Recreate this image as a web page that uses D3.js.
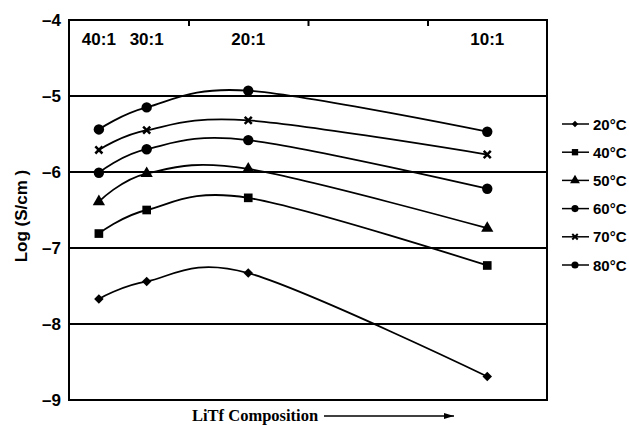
<!DOCTYPE html>
<html>
<head>
<meta charset="utf-8">
<script src="https://cdn.jsdelivr.net/npm/d3@7"></script>
<style>
  html, body { margin: 0; padding: 0; background: #fff; }
  svg { display: block; }
  .sans { font-family: "Liberation Sans", Arial, sans-serif; }
  .serif { font-family: "Liberation Serif", "Times New Roman", serif; }
</style>
</head>
<body>
<svg id="chart" width="629" height="425"></svg>
<script>
// LiTf : polymer ratios and their position along the composition axis
const compositions = ["40:1", "30:1", "20:1", "10:1"];
const compositionPos = [0.25, 0.65, 1.5, 3.5];

// log conductivity (S/cm) for each temperature
const temps = ["20°C", "40°C", "50°C", "60°C", "70°C", "80°C"];
const logS20 = [-7.67, -7.44, -7.33, -8.69];
const logS40 = [-6.81, -6.50, -6.34, -7.23];
const logS50 = [-6.39, -6.02, -5.96, -6.74];
const logS60 = [-6.01, -5.70, -5.58, -6.22];
const logS70 = [-5.71, -5.45, -5.32, -5.77];
const logS80 = [-5.44, -5.15, -4.93, -5.47];
const symbols = ["diamond", "square", "triangle", "circle", "cross", "circle"];

const yTicks = [-9, -8, -7, -6, -5, -4];
const gridValues = [-8, -7, -6, -5];

const seriesValues = [logS20, logS40, logS50, logS60, logS70, logS80];

const svg = d3.select("#chart");
const plot = { left: 69, right: 547, top: 20, bottom: 400 };

const x = d3.scaleLinear().domain([0, 4]).range([plot.left, plot.right]);
const y = d3.scaleLinear().domain([-9, -4]).range([plot.bottom, plot.top]);

// horizontal reference lines
svg.append("g").selectAll("line").data(gridValues).join("line")
  .attr("x1", plot.left).attr("x2", plot.right)
  .attr("y1", d => y(d)).attr("y2", d => y(d))
  .attr("stroke", "#000").attr("stroke-width", 2);

// plot frame
svg.append("rect")
  .attr("x", plot.left).attr("y", plot.top)
  .attr("width", plot.right - plot.left).attr("height", plot.bottom - plot.top)
  .attr("fill", "none").attr("stroke", "#000").attr("stroke-width", 2);

// small ticks hanging from the top edge
const xAxis = svg.append("g")
  .attr("transform", `translate(0,${plot.top})`)
  .call(d3.axisBottom(x).tickValues([1, 2, 3]).tickSize(6).tickFormat(""));
xAxis.select(".domain").remove();
xAxis.selectAll(".tick line").attr("stroke-width", 2);

// y axis labels
const yAxis = svg.append("g")
  .attr("transform", `translate(${plot.left},0)`)
  .call(d3.axisLeft(y).tickValues(yTicks).tickSize(0).tickPadding(8)
    .tickFormat(d => "\u2013" + Math.abs(d)));
yAxis.select(".domain").remove();
yAxis.selectAll("text")
  .attr("font-size", 17).attr("font-weight", "bold").attr("fill", "#000")
  .attr("font-family", "'Liberation Sans', Arial, sans-serif");

// composition labels along the top
svg.append("g").selectAll("text").data(compositions).join("text")
  .attr("class", "sans")
  .attr("x", (d, i) => x(compositionPos[i]))
  .attr("y", 45)
  .attr("text-anchor", "middle")
  .attr("font-size", 17).attr("font-weight", "bold")
  .text(d => d);

// axis titles
svg.append("text")
  .attr("class", "sans")
  .attr("transform", "translate(27,216) rotate(-90)")
  .attr("text-anchor", "middle")
  .attr("font-size", 17).attr("font-weight", "bold")
  .text("Log (S/cm )");

svg.append("text")
  .attr("class", "serif")
  .attr("x", 192).attr("y", 421)
  .attr("font-size", 16.5).attr("font-weight", "bold")
  .text("LiTf Composition");

svg.append("defs").append("marker")
  .attr("id", "arrow").attr("viewBox", "0 0 10 6")
  .attr("refX", 10).attr("refY", 3)
  .attr("markerWidth", 10).attr("markerHeight", 6)
  .attr("markerUnits", "userSpaceOnUse")
  .attr("orient", "auto")
  .append("path").attr("d", "M0,0L10,3L0,6Z").attr("fill", "#000");

svg.append("line")
  .attr("x1", 324).attr("x2", 454).attr("y1", 416).attr("y2", 416)
  .attr("stroke", "#000").attr("stroke-width", 1.5)
  .attr("marker-end", "url(#arrow)");

// marker shapes
function symbolPath(kind, size) {
  const types = {
    square: d3.symbolSquare, triangle: d3.symbolTriangle, circle: d3.symbolCircle
  };
  const s = Math.sqrt(size) / 2;
  if (kind === "cross") {
    return `M${-s},${-s}L${s},${s}M${-s},${s}L${s},${-s}`;
  }
  if (kind === "diamond") {
    const r = s * 1.35;
    return `M0,${-r}L${r},0L0,${r}L${-r},0Z`;
  }
  return d3.symbol(types[kind], size)();
}
const plotSizes = { diamond: 50, square: 75, triangle: 65, circle: 85, cross: 50 };
const legendSizes = { diamond: 22, square: 40, triangle: 42, circle: 40, cross: 30 };

const line = d3.line()
  .x((d, i) => x(compositionPos[i]))
  .y(d => y(d))
  .curve(d3.curveCatmullRom.alpha(0));

const series = svg.append("g").selectAll("g").data(seriesValues).join("g");
series.append("path")
  .attr("d", d => line(d))
  .attr("fill", "none").attr("stroke", "#000").attr("stroke-width", 1.8);
series.each(function (vals, si) {
  const kind = symbols[si];
  d3.select(this).selectAll("path.pt").data(vals).join("path")
    .attr("class", "pt")
    .attr("transform", (d, i) => `translate(${x(compositionPos[i])},${y(d)})`)
    .attr("d", symbolPath(kind, plotSizes[kind]))
    .attr("fill", "#000").attr("stroke", "#000")
    .attr("stroke-width", kind === "cross" ? 2.5 : 0);
});

// legend
const legend = svg.append("g").selectAll("g").data(temps).join("g")
  .attr("transform", (d, i) => `translate(0,${124 + i * 28.2})`);
legend.append("line")
  .attr("x1", 562).attr("x2", 589).attr("y1", 0).attr("y2", 0)
  .attr("stroke", "#000").attr("stroke-width", 1.5);
legend.append("path")
  .attr("transform", "translate(575,0)")
  .attr("d", (d, i) => symbolPath(symbols[i], legendSizes[symbols[i]]))
  .attr("fill", "#000").attr("stroke", "#000")
  .attr("stroke-width", (d, i) => symbols[i] === "cross" ? 2 : 0);
legend.append("text")
  .attr("class", "sans")
  .attr("x", 593).attr("y", 5.5)
  .attr("font-size", 15).attr("font-weight", "bold")
  .text(d => d);
</script>
</body>
</html>
